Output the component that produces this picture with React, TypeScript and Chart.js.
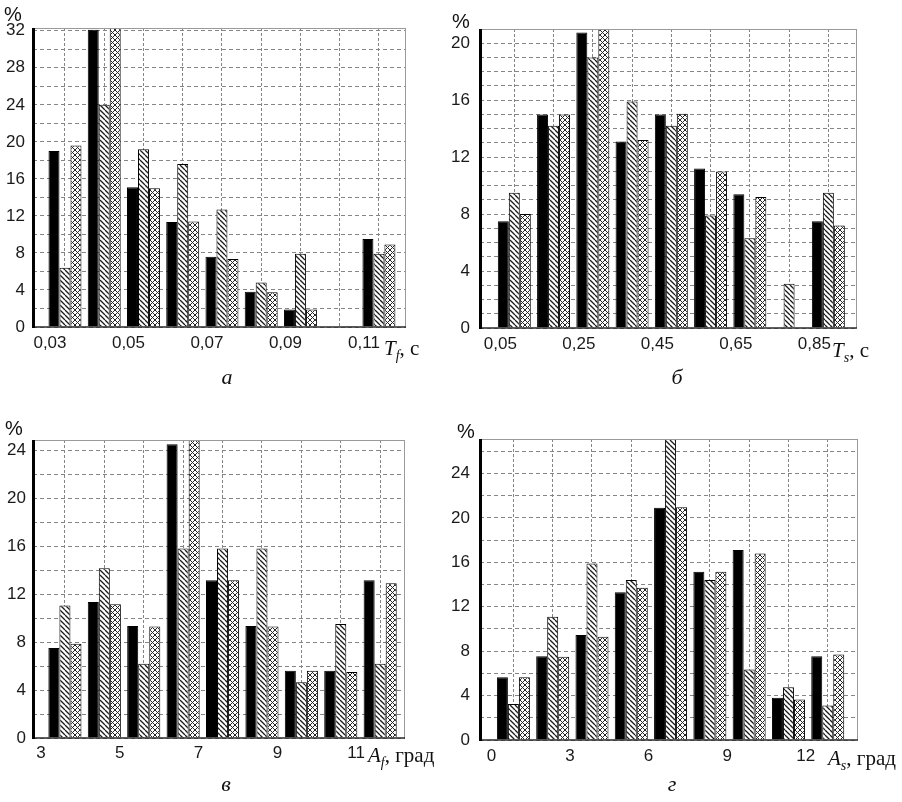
import React, { useEffect, useRef } from 'react';
import { Chart, registerables } from 'chart.js';

Chart.register(...registerables);

// ---------- data ----------
const tfLabels = ['0,03', '0,04', '0,05', '0,06', '0,07', '0,08', '0,09', '0,10', '0,11'];
const tfBlack = [19.0, 32.1, 15.1, 11.35, 7.6, 3.8, 1.9, 0, 9.5];
const tfHatch = [6.4, 24.0, 19.2, 17.6, 12.7, 4.8, 7.9, 0, 7.9];
const tfCross = [19.6, 33.0, 15.0, 11.4, 7.35, 3.75, 1.9, 0.1, 8.9];

const tsLabels = ['0,05', '0,15', '0,25', '0,35', '0,45', '0,55', '0,65', '0,75', '0,85'];
const tsBlack = [7.5, 15.0, 20.75, 13.1, 15.0, 11.2, 9.4, 0, 7.5];
const tsHatch = [9.5, 14.2, 19.0, 15.9, 14.2, 7.9, 6.3, 3.1, 9.5];
const tsCross = [8.0, 15.0, 21.5, 13.2, 15.05, 11.0, 9.2, 0, 7.2];

const afLabels = ['3', '4', '5', '6', '7', '8', '9', '10', '11'];
const afBlack = [7.5, 11.35, 9.35, 24.5, 13.15, 9.35, 5.6, 5.6, 13.15];
const afHatch = [11.05, 14.15, 6.2, 15.8, 15.8, 15.8, 4.65, 9.5, 6.2];
const afCross = [7.85, 11.15, 9.3, 25.5, 13.15, 9.3, 5.6, 5.5, 12.9];

const asLabels = ['0', '1,5', '3', '4,5', '6', '7,5', '9', '10,5', '12'];
const asBlack = [5.65, 7.55, 9.45, 13.3, 20.9, 15.15, 17.1, 3.8, 7.55];
const asHatch = [3.25, 11.1, 15.9, 14.4, 28.0, 14.4, 6.35, 4.75, 3.1];
const asCross = [5.65, 7.5, 9.3, 13.7, 20.95, 15.15, 16.8, 3.65, 7.7];

// ---------- styling helpers ----------
const SANS = '"Liberation Sans", Arial, sans-serif';
const SERIF = '"Liberation Serif", "Times New Roman", serif';

function makeHatch(): CanvasPattern {
  const s = 5;
  const c = document.createElement('canvas');
  c.width = s;
  c.height = s;
  const g = c.getContext('2d')!;
  g.fillStyle = '#ffffff';
  g.fillRect(0, 0, s, s);
  g.strokeStyle = '#1a1a1a';
  g.lineWidth = 1.3;
  g.beginPath();
  for (let k = -s; k <= s; k += s) {
    g.moveTo(k, 0);
    g.lineTo(k + s, s);
  }
  g.stroke();
  return g.createPattern(c, 'repeat')!;
}

function makeCross(): CanvasPattern {
  const s = 5;
  const c = document.createElement('canvas');
  c.width = s;
  c.height = s;
  const g = c.getContext('2d')!;
  g.fillStyle = '#ffffff';
  g.fillRect(0, 0, s, s);
  g.strokeStyle = '#262626';
  g.lineWidth = 1.0;
  g.beginPath();
  for (let k = -s; k <= s; k += s) {
    g.moveTo(k, 0);
    g.lineTo(k + s, s);
    g.moveTo(k, s);
    g.lineTo(k + s, 0);
  }
  g.stroke();
  return g.createPattern(c, 'repeat')!;
}

const framePlugin = {
  id: 'frame',
  afterDatasetsDraw(chart: any) {
    const { ctx, chartArea } = chart;
    const { left, right, top, bottom } = chartArea;
    ctx.save();
    ctx.strokeStyle = '#9a9a9a';
    ctx.lineWidth = 1;
    ctx.beginPath();
    ctx.moveTo(left, Math.round(top) + 0.5);
    ctx.lineTo(right, Math.round(top) + 0.5);
    ctx.moveTo(Math.round(right) - 0.5, top);
    ctx.lineTo(Math.round(right) - 0.5, bottom);
    ctx.stroke();
    ctx.strokeStyle = '#2a2a2a';
    ctx.lineWidth = 1.5;
    ctx.beginPath();
    ctx.moveTo(left, bottom);
    ctx.lineTo(right, bottom);
    ctx.stroke();
    ctx.strokeStyle = '#000000';
    ctx.lineWidth = 3;
    ctx.beginPath();
    ctx.moveTo(left + 0.5, top);
    ctx.lineTo(left + 0.5, bottom + 1);
    ctx.stroke();
    ctx.restore();
  },
};

type PanelProps = {
  left: number;
  top: number;
  width: number;
  height: number;
  area: { l: number; r: number; t: number; b: number };
  labels: string[];
  black: number[];
  hatch: number[];
  cross: number[];
  xMin: number;
  xMax: number;
  yMax: number;
  yStep: number;
  yLabelStep: number;
  yPad: number;
  xPad: number;
  labelOffset: number;
};

function Panel(p: PanelProps) {
  const ref = useRef<HTMLCanvasElement>(null);
  useEffect(() => {
    const canvas = ref.current!;
    const hatch = makeHatch();
    const cross = makeCross();
    const pts = (vals: number[]) => vals.map((v, i) => ({ x: i, y: v }));
    const yW = p.area.l - p.left;
    const xH = 30;
    const chart = new Chart(canvas, {
      type: 'bar',
      data: {
        datasets: [
          { data: pts(p.black) as any, backgroundColor: '#000000', borderColor: '#000000', borderWidth: 1 },
          { data: pts(p.hatch) as any, backgroundColor: hatch as any, borderColor: '#000000', borderWidth: 1 },
          { data: pts(p.cross) as any, backgroundColor: cross as any, borderColor: '#000000', borderWidth: 1 },
        ],
      },
      options: {
        animation: false,
        responsive: false,
        events: [],
        datasets: { bar: { categoryPercentage: 0.84, barPercentage: 1.0 } },
        layout: {
          padding: {
            left: 0,
            top: p.area.t - p.top,
            right: p.left + p.width - p.area.r,
            bottom: p.top + p.height - p.area.b - xH,
          },
        },
        plugins: { legend: { display: false }, tooltip: { enabled: false }, title: { display: false } },
        scales: {
          x: {
            type: 'linear',
            offset: false,
            min: p.xMin,
            max: p.xMax,
            afterFit: (s: any) => {
              s.height = xH;
            },
            grid: { offset: false, color: '#858585', lineWidth: 1, drawTicks: false },
            border: { display: false, dash: [3, 2] },
            ticks: {
              stepSize: 1,
              includeBounds: false,
              autoSkip: false,
              maxRotation: 0,
              padding: p.xPad,
              labelOffset: p.labelOffset,
              color: '#1a1a1a',
              font: { family: SANS, size: 17 },
              callback: (v: any) => {
                const i = Math.round(Number(v));
                return i % 2 === 0 && p.labels[i] !== undefined ? p.labels[i] : '';
              },
            },
          } as any,
          y: {
            type: 'linear',
            min: 0,
            max: p.yMax,
            afterFit: (s: any) => {
              s.width = yW;
            },
            grid: { color: '#858585', lineWidth: 1, drawTicks: false },
            border: { display: false, dash: [4, 3] },
            ticks: {
              stepSize: p.yStep,
              includeBounds: false,
              autoSkip: false,
              padding: p.yPad,
              color: '#1a1a1a',
              font: { family: SANS, size: 17 },
              callback: (v: any) => {
                const n = Math.round(Number(v) * 100) / 100;
                return n % p.yLabelStep === 0 ? String(n) : '';
              },
            },
          } as any,
        },
      },
      plugins: [framePlugin],
    });
    return () => chart.destroy();
  }, []);
  return (
    <canvas
      ref={ref}
      width={p.width}
      height={p.height}
      style={{ position: 'absolute', left: p.left, top: p.top, width: p.width, height: p.height }}
    />
  );
}

function Txt(props: { left: number; top: number; size: number; family: string; italic?: boolean; children: React.ReactNode; width?: number; center?: boolean }) {
  return (
    <div
      style={{
        position: 'absolute',
        left: props.left,
        top: props.top,
        fontFamily: props.family,
        fontSize: props.size,
        lineHeight: props.size + 'px',
        fontStyle: props.italic ? 'italic' : 'normal',
        whiteSpace: 'nowrap',
        color: '#111',
        width: props.width,
        textAlign: props.center ? 'center' : 'left',
        zIndex: 2,
      }}
    >
      {props.children}
    </div>
  );
}

function AxisTitle(props: { left: number; top: number; sym: string; sub: string; unit: string }) {
  return (
    <Txt left={props.left} top={props.top} size={21} family={SERIF}>
      <i>{props.sym}</i>
      <i style={{ fontSize: 14, position: 'relative', top: 5 }}>{props.sub}</i>
      {', ' + props.unit}
    </Txt>
  );
}

export default function App() {
  return (
    <div style={{ position: 'absolute', left: 0, top: 0, width: 902, height: 802, background: '#fff', overflow: 'hidden' }}>
      <Panel
        left={0} top={0} width={450} height={400}
        area={{ l: 33, r: 406, t: 28, b: 327 }}
        labels={tfLabels} black={tfBlack} hatch={tfHatch} cross={tfCross}
        xMin={-0.815} xMax={8.69} yMax={32.3} yStep={2} yLabelStep={4}
        yPad={8} xPad={6} labelOffset={-15}
      />
      <Panel
        left={450} top={0} width={452} height={400}
        area={{ l: 480, r: 857, t: 29, b: 328 }}
        labels={tsLabels} black={tsBlack} hatch={tsHatch} cross={tsCross}
        xMin={-0.874} xMax={8.73} yMax={21} yStep={1} yLabelStep={4}
        yPad={10} xPad={6} labelOffset={-14}
      />
      <Panel
        left={0} top={400} width={450} height={402}
        area={{ l: 33, r: 405, t: 440, b: 738 }}
        labels={afLabels} black={afBlack} hatch={afHatch} cross={afCross}
        xMin={-0.81} xMax={8.63} yMax={24.85} yStep={2} yLabelStep={4}
        yPad={7} xPad={5} labelOffset={-24}
      />
      <Panel
        left={450} top={400} width={452} height={402}
        area={{ l: 480, r: 858, t: 439, b: 740 }}
        labels={asLabels} black={asBlack} hatch={asHatch} cross={asCross}
        xMin={-0.85} xMax={8.77} yMax={27.1} yStep={2} yLabelStep={4}
        yPad={10} xPad={6} labelOffset={-22}
      />

      <Txt left={4} top={4} size={20} family={SANS}>%</Txt>
      <Txt left={452} top={11} size={20} family={SANS}>%</Txt>
      <Txt left={5} top={418} size={20} family={SANS}>%</Txt>
      <Txt left={457} top={421} size={20} family={SANS}>%</Txt>

      <AxisTitle left={384} top={338} sym="T" sub="f" unit="с" />
      <AxisTitle left={832} top={340} sym="T" sub="s" unit="с" />
      <AxisTitle left={368} top={745} sym="A" sub="f" unit="град" />
      <AxisTitle left={828} top={748} sym="A" sub="s" unit="град" />

      <Txt left={207} top={366} size={22} family={SERIF} italic width={40} center>а</Txt>
      <Txt left={657} top={366} size={22} family={SERIF} italic width={40} center>б</Txt>
      <Txt left={206} top={773} size={22} family={SERIF} italic width={40} center>в</Txt>
      <Txt left={652} top={773} size={22} family={SERIF} italic width={40} center>г</Txt>
    </div>
  );
}
